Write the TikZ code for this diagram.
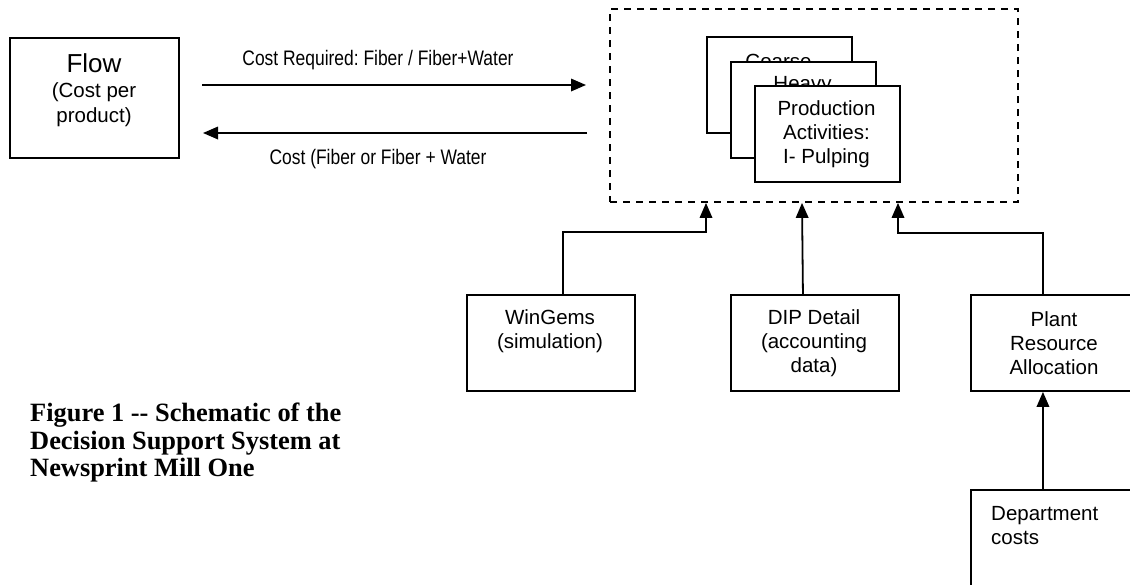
\documentclass[tikz,border=0pt]{standalone}
\usepackage{fontspec}
\setmainfont{Liberation Sans}
\newfontfamily\narrowsans[FakeStretch=0.83]{Liberation Sans}
\newfontfamily\capserif{Liberation Serif}
\usetikzlibrary{arrows.meta}
\frenchspacing
\newcommand\myboxfont{\fontsize{20.5pt}{24pt}\selectfont}
\newcommand\mylblfont{\narrowsans\fontsize{21pt}{24pt}\selectfont}
\newcommand\mycapfont{\capserif\bfseries\fontsize{26.4pt}{27.5pt}\selectfont}
\tikzset{
  bx/.style={draw=black, line width=1.9pt, fill=white, inner sep=0pt, anchor=north west, minimum height=96pt},
  txt/.style={inner sep=0pt, align=center, font=\myboxfont},
  conn/.style={line width=1.8pt, -{Triangle[length=15pt,width=12.5pt]}},
  dashbox/.style={draw=black, line width=1.8pt, dash pattern=on 7pt off 6pt, inner sep=0pt},
  lbl/.style={inner sep=0pt, font=\mylblfont},
}
\begin{document}
\begin{tikzpicture}[x=1pt,y=-1pt]
\useasboundingbox (0,0) rectangle (1130,584);
\fill[white] (0,0) rectangle (1130,584);
\clip (0,0) rectangle (1130,584);

% Flow box
\node[bx, minimum width=169pt, minimum height=120pt] (flow) at (9,37) {};
\node[inner sep=0pt, font=\fontsize{26pt}{28pt}\selectfont] (flowtitle) at (94,63) {Flow};
\node[txt, font=\fontsize{20.5pt}{25pt}\selectfont] (flowsub) at (94,104.5) {(Cost per\\product)};

% arrows between Flow and the dashed group
\coordinate (t1) at (202,85);
\coordinate (t2) at (586,85);
\coordinate (b1) at (587,133);
\coordinate (b2) at (203,133);
\draw[conn] (t1) -- (t2);
\draw[conn] (b1) -- (b2);
\node[lbl] (lreq) at (378,60) {Cost Required: Fiber / Fiber+Water};
\node[lbl] (lcost) at (378,159) {Cost (Fiber or Fiber + Water};

% dashed group
\node[dashbox, minimum width=408pt, minimum height=193pt] (dsb) at (814,105.5) {};
\node[bx, minimum width=145pt] (coarse) at (706,36) {};
\node[txt] (coarsetxt) at (778.5,61) {Coarse};
\node[bx, minimum width=145pt] (heavy) at (730,61) {};
\node[txt] (heavytxt) at (802.5,86) {Heavy};
\node[bx, minimum width=145pt] (prod) at (754,85) {};
\node[txt] (prodtxt) at (826.5,134) {Production\\Activities:\\I- Pulping};

% lower boxes
\node[bx, minimum width=168pt] (win) at (466,294) {};
\node[txt] (wintxt) at (550,331) {WinGems\\(simulation)};
\node[bx, minimum width=168pt] (dip) at (730,294) {};
\node[txt] (diptxt) at (814,343) {DIP Detail\\(accounting\\data)};
\node[bx, minimum width=168pt] (plant) at (970,294) {};
\node[txt] (planttxt) at (1054,343) {Plant\\Resource\\Allocation};
\node[bx, minimum width=168pt, minimum height=130pt] (dept) at (970,489) {};
\node[txt, align=left, anchor=west] (depttxt) at (991,525.5) {Department\\costs};

% connectors
\draw[conn] ([xshift=12pt]win.north) -- ++(0,-62) -| ([xshift=-108pt]dsb.south);
\draw[conn] ([xshift=-12pt]dip.north) -- ([xshift=-12pt]dsb.south);
\draw[conn] ([xshift=-12pt]plant.north) -- ++(0,-61) -| ([xshift=84pt]dsb.south);
\draw[conn] ([xshift=-12pt]dept.north) -- ([xshift=-12pt]plant.south);

% caption
\node[inner sep=0pt, align=left, anchor=west, font=\mycapfont] (caption) at (30,443)
  {Figure 1 -\kern0pt- Schematic of the\\Decision Support System at\\Newsprint Mill One};
\end{tikzpicture}
\end{document}
